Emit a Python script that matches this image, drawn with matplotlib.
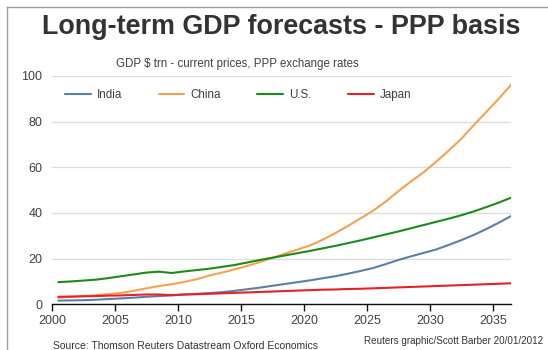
import numpy as np
import matplotlib
matplotlib.use("Agg")
import matplotlib.pyplot as plt
from matplotlib.lines import Line2D

plt.rcParams['font.family'] = ['Liberation Sans', 'DejaVu Sans']

years = list(range(2000, 2037))

india = [1.6, 1.7, 1.8, 2.0, 2.3, 2.6, 2.9, 3.3, 3.6, 3.9,
         4.3, 4.6, 4.9, 5.3, 5.9, 6.6, 7.3, 8.1, 8.9, 9.7,
         10.5, 11.4, 12.3, 13.4, 14.6, 15.9, 17.6, 19.4, 21.0, 22.5,
         24.0, 26.0, 28.1, 30.4, 33.0, 35.8, 38.8]

china = [2.9, 3.2, 3.6, 4.0, 4.5, 5.0, 5.9, 7.0, 8.0, 8.8,
         9.8, 11.0, 12.6, 13.9, 15.3, 16.8, 18.5, 20.3, 22.2, 24.0,
         25.8, 28.3, 31.2, 34.3, 37.6, 41.0, 45.0, 49.5, 53.8, 57.8,
         62.4, 67.3, 72.5, 78.5, 84.3, 90.2, 96.4]

us = [9.7, 10.0, 10.4, 10.8, 11.5, 12.3, 13.1, 13.9, 14.3, 13.7,
      14.4, 15.0, 15.6, 16.4, 17.2, 18.3, 19.4, 20.4, 21.4, 22.4,
      23.4, 24.5, 25.6, 26.8, 28.0, 29.3, 30.6, 31.9, 33.3, 34.7,
      36.1, 37.5, 39.0, 40.7, 42.6, 44.6, 46.8]

japan = [3.3, 3.4, 3.5, 3.6, 3.8, 3.9, 4.1, 4.3, 4.3, 4.0,
         4.3, 4.4, 4.6, 4.8, 5.0, 5.2, 5.4, 5.6, 5.8, 6.0,
         6.2, 6.4, 6.5, 6.7, 6.8, 7.0, 7.2, 7.4, 7.6, 7.8,
         8.0, 8.2, 8.4, 8.6, 8.8, 9.0, 9.2]

series_names = ["India", "China", "U.S.", "Japan"]
series_values = [india, china, us, japan]
series_colors = ["#5b80a5", "#f4a251", "#1c8a1c", "#e8202a"]

x_ticks = [2000, 2005, 2010, 2015, 2020, 2025, 2030, 2035]
y_ticks = [0, 20, 40, 60, 80, 100]

W, H = 548, 350
fig = plt.figure(figsize=(W / 100, H / 100), dpi=100)
fig.patch.set_facecolor("white")

ax = fig.add_axes([52 / W, 1 - 304.3 / H, (511 - 52) / W, (304.3 - 76) / H])

# annual values sit in the middle of each year slot
xpos = np.array(years) + 0.5
for name, vals, col in zip(series_names, series_values, series_colors):
    ax.plot(xpos, vals, color=col, lw=1.5, label=name, solid_capstyle="round")

ax.set_xlim(2000, 2036.45)
ax.set_ylim(0, 100)
ax.set_xticks(x_ticks)
ax.set_yticks(y_ticks)
ax.grid(axis="y", color="#dcdcdc", lw=0.9)
ax.set_axisbelow(True)
for s in ["top", "right", "left"]:
    ax.spines[s].set_visible(False)
ax.spines["bottom"].set_color("#111111")
ax.spines["bottom"].set_linewidth(1.0)
ax.tick_params(axis="y", length=0, pad=7, labelsize=9, labelcolor="#404040")
ax.tick_params(axis="x", length=5, width=1.0, color="#111111", pad=3,
               labelsize=9, labelcolor="#404040")

leg = fig.legend(loc="center left", bbox_to_anchor=(65 / W, 1 - 95 / H),
                 ncol=4, frameon=False, fontsize=8.4, handlelength=2.2,
                 handletextpad=0.55, columnspacing=3.1, borderpad=0,
                 borderaxespad=0)
for t in leg.get_texts():
    t.set_color("#404040")

fig.text(281 / W, 1 - 27 / H, "Long-term GDP forecasts - PPP basis",
         ha="center", va="center", fontsize=19.4, fontweight="bold", color="#333333")
fig.text(237 / W, 1 - 64 / H, "GDP $ trn - current prices, PPP exchange rates",
         ha="center", va="center", fontsize=8.3, color="#404040")
fig.text(53 / W, 1 - 346 / H, "Source: Thomson Reuters Datastream Oxford Economics",
         ha="left", va="center", fontsize=7.5, color="#333333")
fig.text(364 / W, 1 - 341 / H, "Reuters graphic/Scott Barber 20/01/2012",
         ha="left", va="center", fontsize=7.1, color="#333333")

# thin frame around the graphic
fig.add_artist(Line2D([6.5 / W, 6.5 / W], [0, 1 - 7 / H], color="#a0a0a0", lw=1.0))
fig.add_artist(Line2D([6.5 / W, 1], [1 - 7 / H, 1 - 7 / H], color="#a0a0a0", lw=1.0))

fig.savefig("out.png", dpi=100, facecolor="white")
